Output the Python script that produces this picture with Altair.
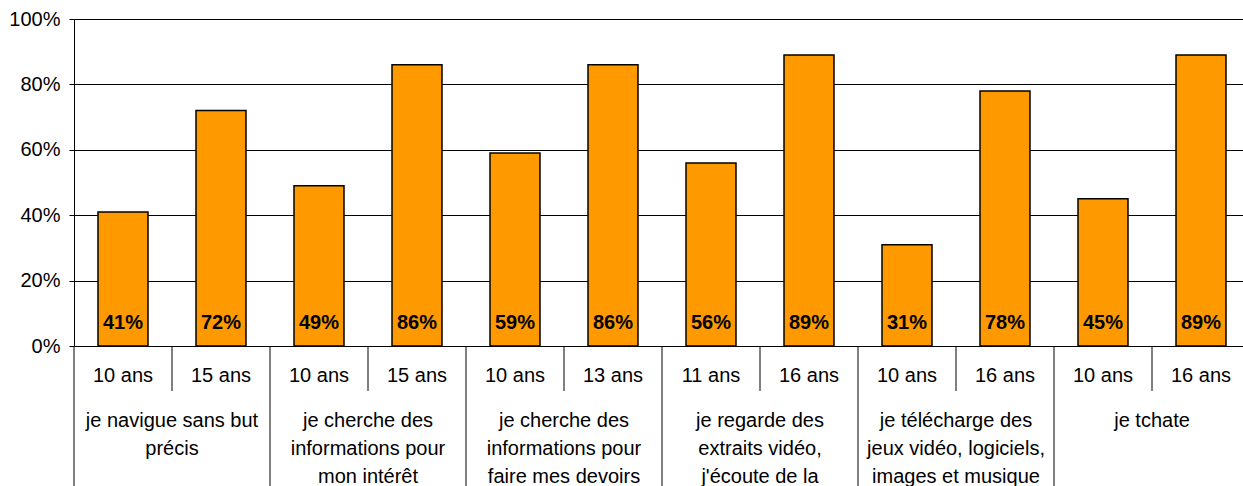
import altair as alt
import pandas as pd

# ---- data ----
groups = ["g0", "g1", "g2", "g3", "g4", "g5"]
group_labels = [
    "je navigue sans but\nprécis",
    "je cherche des\ninformations pour\nmon intérêt",
    "je cherche des\ninformations pour\nfaire mes devoirs",
    "je regarde des\nextraits vidéo,\nj'écoute de la\nmusique",
    "je télécharge des\njeux vidéo, logiciels,\nimages et musique",
    "je tchate",
]
ages = ["10 ans", "15 ans", "10 ans", "15 ans", "10 ans", "13 ans",
        "11 ans", "16 ans", "10 ans", "16 ans", "10 ans", "16 ans"]
values = [41, 72, 49, 86, 59, 86, 56, 89, 31, 78, 45, 89]
bar_group = [g for g in groups for _ in range(2)]
bar_ids = [f"b{i}" for i in range(len(values))]
y_ticks = [0, 20, 40, 60, 80, 100]

bars_df = pd.DataFrame({
    "bar": bar_ids, "group": bar_group, "age": ages, "value": values,
    "second": [i % 2 == 1 for i in range(len(values))],
})
groups_df = pd.DataFrame({"group": groups, "glabel": group_labels})

FONT = "Liberation Sans"
PLOT_W = 1169   # visible width of the view
FULL_W = 1176   # full band range (chart is cropped on the right)
PLOT_H = 327

bar_scale = alt.Scale(domain=bar_ids, range=[0, FULL_W], paddingInner=0.49, paddingOuter=0.245)
slot_scale = alt.Scale(domain=bar_ids, range=[0, FULL_W], paddingInner=0, paddingOuter=0)
group_scale = alt.Scale(domain=groups, range=[0, FULL_W], paddingInner=0, paddingOuter=0)

y_enc = alt.Y(
    "value:Q",
    scale=alt.Scale(domain=[0, 100]),
    title=None,
    axis=alt.Axis(
        values=y_ticks, labelExpr="datum.value + '%'",
        grid=True, gridColor="black", gridWidth=1,
        domainColor="black", tickColor="black", tickSize=5,
        labelPadding=9, labelFont=FONT, labelFontSize=20, labelColor="black",
    ),
)

base = alt.Chart(bars_df)

bars = base.mark_bar(color="#FF9900", stroke="black", strokeWidth=1.5).encode(
    x=alt.X("bar:N", scale=bar_scale, axis=None, sort=None),
    y=y_enc,
)

bar_labels = base.transform_calculate(label="datum.value + '%'").mark_text(
    font=FONT, fontSize=20, fontWeight="bold", color="black",
    baseline="alphabetic", dy=-17,
).encode(
    x=alt.X("bar:N", scale=bar_scale, axis=None, sort=None),
    y=alt.datum(0),
    text="label:N",
)

age_labels = base.mark_text(
    font=FONT, fontSize=20, color="black", baseline="alphabetic",
).encode(
    x=alt.X("bar:N", scale=bar_scale, axis=None, sort=None),
    y=alt.value(363),
    text="age:N",
)

short_sep = base.transform_filter("datum.second").mark_rule(color="black", strokeWidth=1).encode(
    x=alt.X("bar:N", scale=slot_scale, axis=None, sort=None, bandPosition=0),
    y=alt.value(PLOT_H),
    y2=alt.value(372),
)

gbase = alt.Chart(groups_df)

long_sep = gbase.mark_rule(color="black", strokeWidth=1).encode(
    x=alt.X("group:N", scale=group_scale, axis=None, sort=None, bandPosition=0),
    y=alt.value(PLOT_H),
    y2=alt.value(500),
)

group_text = gbase.mark_text(
    font=FONT, fontSize=20, color="black", baseline="alphabetic",
    lineBreak="\n", lineHeight=28,
).encode(
    x=alt.X("group:N", scale=group_scale, axis=None, sort=None),
    y=alt.value(408),
    text="glabel:N",
)

chart = (
    alt.layer(bars, bar_labels, age_labels, short_sep, long_sep, group_text)
    .resolve_scale(x="independent")
    .properties(
        width=PLOT_W, height=PLOT_H,
        autosize=alt.AutoSizeParams(type="none"),
        padding={"left": 74, "top": 19, "right": 0, "bottom": 140},
        background="white",
    )
    .configure_view(stroke="transparent")
)

chart.save("out.html", embed_options={"renderer": "svg", "actions": False})
